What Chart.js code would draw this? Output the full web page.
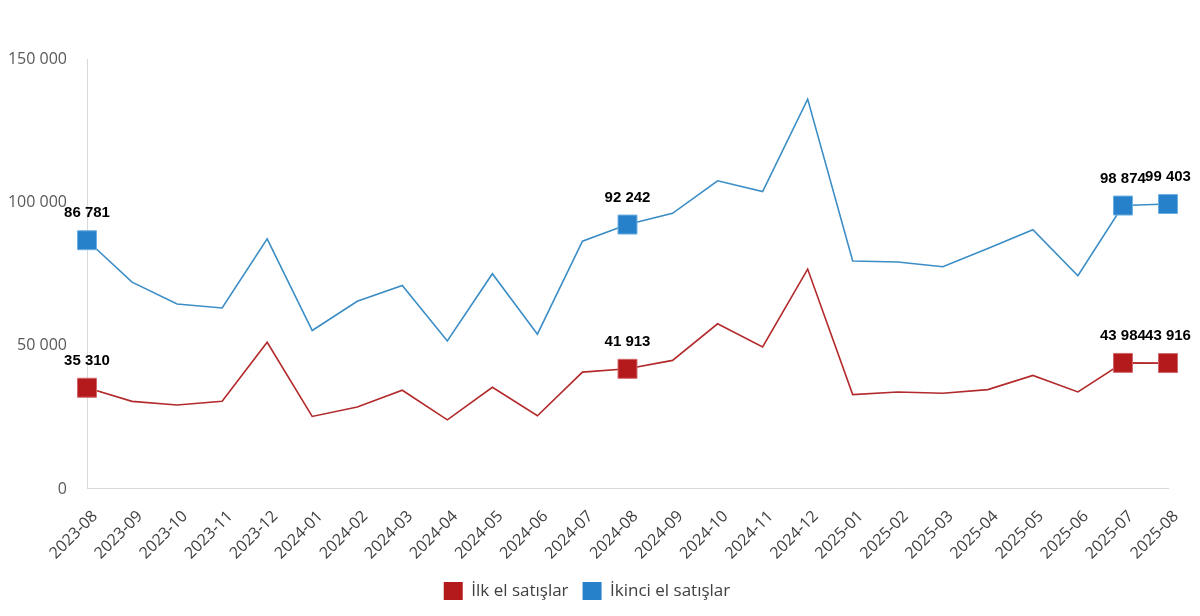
<!DOCTYPE html>
<html>
<head>
<meta charset="utf-8">
<script src="https://cdn.jsdelivr.net/npm/chart.js@4"></script>
<style>
html,body{margin:0;padding:0;background:#fff;}
#wrap{width:1200px;height:616px;position:relative;}
</style>
</head>
<body>
<div id="wrap"><canvas id="c" width="1200" height="616"></canvas></div>
<script>
const categories = ["2023-08","2023-09","2023-10","2023-11","2023-12","2024-01","2024-02","2024-03","2024-04","2024-05","2024-06","2024-07","2024-08","2024-09","2024-10","2024-11","2024-12","2025-01","2025-02","2025-03","2025-04","2025-05","2025-06","2025-07","2025-08"];
const firstHandSales = [35310,30570,29280,30570,51190,25300,28580,34440,24130,35490,25540,40760,41913,44860,57630,49550,76720,32920,33850,33380,34670,39600,33850,43984,43916];
const secondHandSales = [86781,72150,64550,63150,87250,55280,65470,70980,51660,75090,54000,86440,92242,96170,107530,103780,136000,79530,79180,77550,83870,90430,74380,98874,99403];
const seriesNames = ["İlk el satışlar","İkinci el satışlar"];
const labeledIndices = [0,12,23,24];
const yTicks = [0,50000,100000,150000];

function fmt(v){ return String(Math.round(v)).replace(/\B(?=(\d{3})+(?!\d))/g," "); }

const markerR = 13.4;
function radii(){ return categories.map((_,i)=> labeledIndices.includes(i) ? markerR : 0); }

const dataLabelPlugin = {
  id:'dataLabels',
  afterDatasetsDraw(chart){
    const ctx = chart.ctx;
    ctx.save();
    ctx.font = 'bold 15px "Liberation Sans", Arial, sans-serif';
    ctx.fillStyle = '#000';
    ctx.textAlign = 'center';
    ctx.textBaseline = 'middle';
    chart.data.datasets.forEach((ds,di)=>{
      const meta = chart.getDatasetMeta(di);
      labeledIndices.forEach(i=>{
        const el = meta.data[i];
        ctx.fillText(fmt(ds.data[i]), el.x, el.y - 27);
      });
    });
    ctx.restore();
  }
};

const markerColors = ['#B4191C','#2681CA'];
const lineColors = ['#B32A2C','#3B8DC6'];

new Chart(document.getElementById('c'),{
  type:'line',
  data:{
    labels:categories,
    datasets:[
      {label:seriesNames[0],data:firstHandSales,borderColor:lineColors[0],backgroundColor:markerColors[0],borderWidth:1.6,tension:0,
       pointStyle:'rect',pointRadius:radii(),pointHoverRadius:radii(),pointBackgroundColor:markerColors[0],pointBorderColor:'#D06668',pointBorderWidth:1},
      {label:seriesNames[1],data:secondHandSales,borderColor:lineColors[1],backgroundColor:markerColors[1],borderWidth:1.6,tension:0,
       pointStyle:'rect',pointRadius:radii(),pointHoverRadius:radii(),pointBackgroundColor:markerColors[1],pointBorderColor:'#6AAEE0',pointBorderWidth:1}
    ]
  },
  options:{
    responsive:false,
    animation:false,
    layout:{padding:{left:6,right:32,top:59,bottom:6}},
    plugins:{
      tooltip:{enabled:false},
      legend:{
        position:'bottom',
        labels:{
          boxWidth:19,boxHeight:18,padding:14,color:'#404040',
          font:{family:'"Open Sans", sans-serif',size:17},
          generateLabels(chart){
            return chart.data.datasets.map((ds,i)=>({text:ds.label,fillStyle:markerColors[i],strokeStyle:markerColors[i],lineWidth:0,datasetIndex:i,fontColor:'#404040'}));
          }
        }
      }
    },
    scales:{
      x:{
        offset:false,
        grid:{display:false,drawTicks:false},
        border:{display:true,color:'#D9D9D9',width:1},
        afterFit(axis){ axis.height = axis.height - 13; },
        ticks:{minRotation:45,maxRotation:45,autoSkip:false,padding:18,labelOffset:8,color:'#404040',font:{family:'"Open Sans", sans-serif',size:16}}
      },
      y:{
        min:0,max:150000,
        grid:{display:false,drawTicks:false},
        border:{display:true,color:'#D9D9D9',width:1},
        afterBuildTicks(axis){ axis.ticks = yTicks.map(v=>({value:v})); },
        afterFit(axis){ axis.width = 81; },
        ticks:{padding:20,color:'#595959',font:{family:'"Open Sans", sans-serif',size:16},callback:(v)=>fmt(v)}
      }
    }
  },
  plugins:[dataLabelPlugin]
});
</script>
</body>
</html>
